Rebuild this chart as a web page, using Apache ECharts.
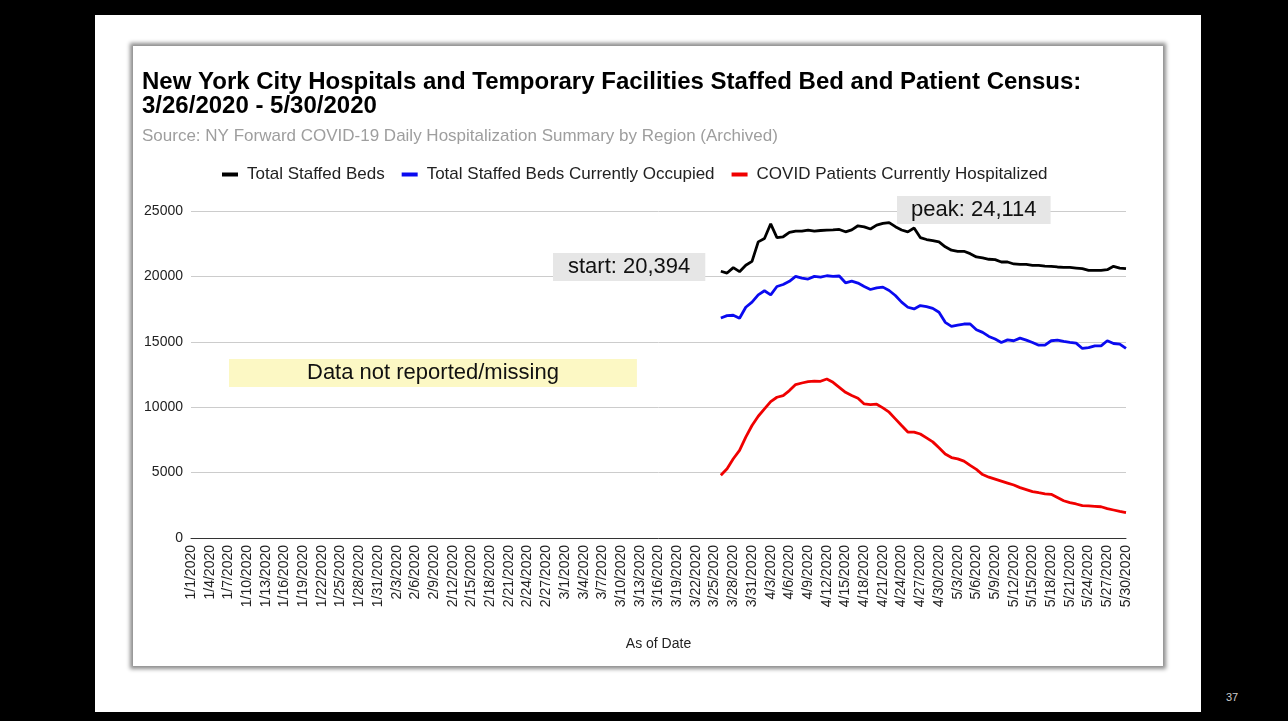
<!DOCTYPE html>
<html>
<head>
<meta charset="utf-8">
<script src="https://cdn.jsdelivr.net/npm/echarts@6/dist/echarts.min.js"></script>
<style>
  html, body { margin: 0; padding: 0; background: #000; width: 1288px; height: 721px; overflow: hidden; }
  #slide { position: absolute; left: 95px; top: 15px; width: 1106px; height: 697px; background: #fff; }
  #card { position: absolute; left: 133px; top: 46px; width: 1030px; height: 620px; background: #fff;
          box-shadow: 0 0 4px 3px rgba(0,0,0,0.45); }
  #pageNum { position: absolute; left: 1226px; top: 691px; color: #ccc; font: 11px 'Liberation Sans', Arial, sans-serif; }
  #main { position: absolute; left: 0; top: 0; width: 1288px; height: 721px; }
</style>
</head>
<body>
<div id="slide"></div>
<div id="card"></div>
<div id="pageNum">37</div>
<div id="main"></div>
<script>
// x axis: every day from 1/1/2020 to 5/30/2020
const firstDay = Date.UTC(2020, 0, 1);
const dayCount = 151;
const dates = [];
for (let i = 0; i < dayCount; i++) {
    const d = new Date(firstDay + i * 86400000);
    dates.push((d.getUTCMonth() + 1) + '/' + d.getUTCDate() + '/2020');
}

// reported data starts 3/26/2020
const dataStart = '3/26/2020';

const staffedBeds = [
    20394, 20256, 20667, 20360, 20850, 21150, 22640, 22900, 24020, 22970,
    23030, 23360, 23460, 23460, 23540, 23460, 23510, 23540, 23560, 23590,
    23410, 23560, 23870, 23790, 23620, 23920, 24050, 24114, 23800, 23550,
    23400, 23700, 22970, 22820, 22740, 22640, 22260, 22000, 21920, 21920,
    21740, 21490, 21410, 21310, 21280, 21100, 21100, 20950, 20920, 20920,
    20850, 20850, 20790, 20770, 20720, 20690, 20690, 20640, 20590, 20460,
    20460, 20460, 20510, 20770, 20640, 20590
];

const bedsOccupied = [
    16820, 17000, 17030, 16800, 17640, 18030, 18590, 18900, 18590, 19230,
    19380, 19620, 20000, 19870, 19800, 20000, 19950, 20050, 20000, 20030,
    19510, 19640, 19490, 19230, 19000, 19130, 19180, 18920, 18540, 18030,
    17640, 17510, 17770, 17690, 17560, 17260, 16490, 16180, 16280, 16360,
    16360, 15920, 15720, 15410, 15210, 14950, 15150, 15080, 15280, 15130,
    14950, 14740, 14740, 15080, 15130, 15030, 14950, 14900, 14490, 14560,
    14690, 14690, 15080, 14870, 14820, 14490
];

const covidPatients = [
    4800, 5300, 6060, 6700, 7710, 8600, 9310, 9870, 10430, 10760,
    10890, 11270, 11730, 11850, 11950, 12000, 11980, 12160, 11900, 11520,
    11140, 10890, 10690, 10250, 10200, 10230, 9950, 9620, 9110, 8600,
    8100, 8100, 7950, 7650, 7350, 6900, 6420, 6150, 6050, 5880,
    5550, 5250, 4850, 4650, 4500, 4350, 4200, 4050, 3850, 3700,
    3550, 3460, 3380, 3340, 3100, 2850, 2700, 2600, 2470, 2450,
    2420, 2390, 2250, 2140, 2030, 1940
];

const seriesNames = ['Total Staffed Beds', 'Total Staffed Beds Currently Occupied', 'COVID Patients Currently Hospitalized'];
const seriesColors = ['#000000', '#0a0af0', '#f00000'];

// pad the missing days with nulls
const offset = dates.indexOf(dataStart);
const pad = (arr) => new Array(offset).fill(null).concat(arr);

const FONT = "'Liberation Sans', Arial, sans-serif";

let myChart = echarts.init(document.getElementById('main'));
let option;

option = {
    backgroundColor: 'transparent',
    textStyle: { fontFamily: FONT },
    title: {
        text: 'New York City Hospitals and Temporary Facilities Staffed Bed and Patient Census:\n3/26/2020 - 5/30/2020',
        subtext: 'Source: NY Forward COVID-19 Daily Hospitalization Summary by Region (Archived)',
        left: 137,
        top: 65,
        itemGap: 10,
        textStyle: { fontFamily: FONT, fontSize: 24, fontWeight: 'bold', color: '#000', lineHeight: 24 },
        subtextStyle: { fontFamily: FONT, fontSize: 17, color: '#9e9e9e' }
    },
    legend: {
        left: 217,
        top: 161,
        icon: 'rect',
        itemWidth: 16,
        itemHeight: 4,
        itemGap: 17,
        textStyle: { fontFamily: FONT, fontSize: 17, color: '#222', padding: [0, 0, 0, 4] },
        data: seriesNames
    },
    grid: { left: 191, right: 162, top: 211, bottom: 183 },
    xAxis: {
        type: 'category',
        data: dates,
        boundaryGap: false,
        name: 'As of Date',
        nameLocation: 'middle',
        nameGap: 99,
        nameTextStyle: { fontFamily: FONT, fontSize: 14, color: '#222' },
        axisLine: { lineStyle: { color: '#333', width: 1 } },
        axisTick: { show: false },
        axisLabel: { interval: 2, rotate: 90, fontFamily: FONT, fontSize: 14, color: '#222', margin: 7 }
    },
    yAxis: {
        type: 'value',
        min: 0,
        max: 25000,
        interval: 5000,
        axisLine: { show: false },
        axisTick: { show: false },
        splitLine: { lineStyle: { color: '#cccccc' } },
        axisLabel: { fontFamily: FONT, fontSize: 14, color: '#222', margin: 8, formatter: (v) => String(v) }
    },
    series: [
        {
            name: seriesNames[0],
            type: 'line',
            data: pad(staffedBeds),
            showSymbol: false,
            itemStyle: { color: seriesColors[0] },
            lineStyle: { width: 2.8, color: seriesColors[0] }
        },
        {
            name: seriesNames[1],
            type: 'line',
            data: pad(bedsOccupied),
            showSymbol: false,
            itemStyle: { color: seriesColors[1] },
            lineStyle: { width: 2.8, color: seriesColors[1] }
        },
        {
            name: seriesNames[2],
            type: 'line',
            data: pad(covidPatients),
            showSymbol: false,
            itemStyle: { color: seriesColors[2] },
            lineStyle: { width: 2.8, color: seriesColors[2] }
        }
    ],
    // annotation boxes
    graphic: [
        {
            type: 'text', left: 553, top: 253, z: 100,
            style: { text: 'start: 20,394', font: '22px ' + FONT, fill: '#111',
                     backgroundColor: '#e6e6e6', padding: [3, 15, 3, 15] }
        },
        {
            type: 'text', left: 897, top: 196, z: 100,
            style: { text: 'peak: 24,114', font: '22px ' + FONT, fill: '#111',
                     backgroundColor: '#e6e6e6', padding: [3, 14, 3, 14] }
        },
        {
            type: 'text', left: 229, top: 359, z: 100,
            style: { text: 'Data not reported/missing', font: '22px ' + FONT, fill: '#111',
                     backgroundColor: '#fcf8c4', padding: [3, 78, 3, 78] }
        }
    ]
};

option && myChart.setOption(option);
</script>
</body>
</html>
